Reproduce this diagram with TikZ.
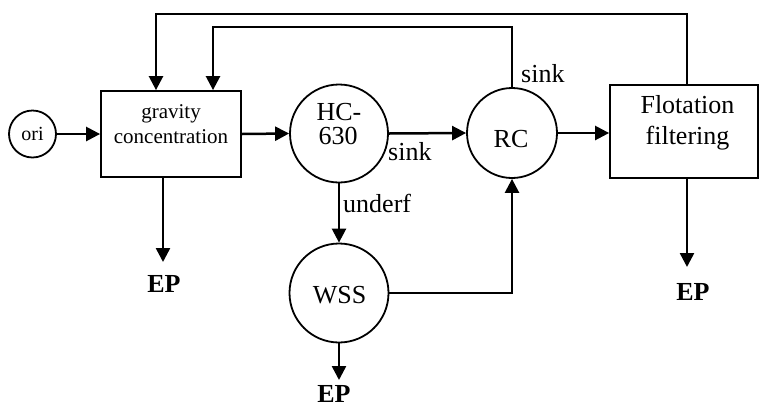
\documentclass[tikz,border=0pt]{standalone}
\usepackage{fontspec}
\setmainfont{Liberation Serif}
\usetikzlibrary{arrows.meta}
\begin{document}
\begin{tikzpicture}[x=1pt,y=-1pt,
  shp/.style={draw,line width=1.8pt,inner sep=0pt},
  circ/.style={shp,circle},
  box/.style={shp,rectangle},
  arr/.style={line width=2.5pt,-{Triangle[length=14pt,width=14pt]}},
  txt/.style={font=\fontsize{26}{26}\selectfont,anchor=base,inner sep=0pt},
  smalltxt/.style={font=\fontsize{21}{25}\selectfont,anchor=base,inner sep=0pt},
  oritxt/.style={font=\fontsize{20}{24}\selectfont,anchor=base,inner sep=0pt},
  eptxt/.style={font=\fontsize{26}{26}\selectfont\bfseries,anchor=base,inner sep=0pt,text depth=0pt}]
\useasboundingbox (0,0) rectangle (759,405);

% shapes
\node[circ,minimum size=47pt] (ori) at (32.5,134) {};
\node[box,minimum width=140pt,minimum height=86pt] (grav) at (171,134) {};
\node[circ,minimum size=98pt] (hc) at (339,133.5) {};
\node[circ,minimum size=90pt] (rc) at (512,133) {};
\node[circ,minimum size=99pt] (wss) at (339,293) {};
\node[box,minimum width=148pt,minimum height=93pt] (flot) at (684,131.5) {};

% texts
\node[oritxt] (oritext) at (32.5,140) {ori};
\node[smalltxt] (grav1) at (171,118) {gravity};
\node[smalltxt] (grav2) at (171,143) {concentration};
\node[txt] (hc1) at (339,120) {HC-};
\node[txt] (hc2) at (338,144) {630};
\node[txt] (rctext) at (511,147) {RC};
\node[txt] (wsstext) at (339.5,303) {WSS};
\node[txt] (flot1) at (687.5,113) {Flotation};
\node[txt] (flot2) at (687.5,144) {filtering};
\node[txt,anchor=base west] (sink1) at (388,160) {sink};
\node[txt,anchor=base west] (sink2) at (521,82) {sink};
\node[txt,anchor=base west] (underf) at (343,212) {underf};
\node[eptxt] (ep1) at (164,292) {EP};
\node[eptxt] (ep2) at (693,300) {EP};
\node[eptxt] (ep3) at (334,402) {EP};

% coordinates
\coordinate (c1) at (213,27);
\coordinate (c2) at (156,14);
\coordinate (t1) at (163,262);
\coordinate (t2) at (687,267);
\coordinate (t3) at (339,380);
\coordinate (ftop) at (687,85);

% connectors
\draw[arr] (ori.east) -- (ori.east -| grav.west);
\draw[arr] (grav.east) -- (hc.west);
\draw[arr] (hc.east) -- (rc.west);
\draw[arr] (rc.east) -- (rc.east -| flot.west);
\draw[arr] (hc.south) -- (wss.north);
\draw[arr] (wss.east) -| (rc.south);
\draw[arr] (rc.north) |- (c1) -- (c1 |- grav.north);
\draw[arr] (ftop) |- (c2) -- (c2 |- grav.north);
\draw[arr] (t1 |- grav.south) -- (t1);
\draw[arr] (t2 |- flot.south) -- (t2);
\draw[arr] (wss.south) -- (t3);
\end{tikzpicture}
\end{document}
